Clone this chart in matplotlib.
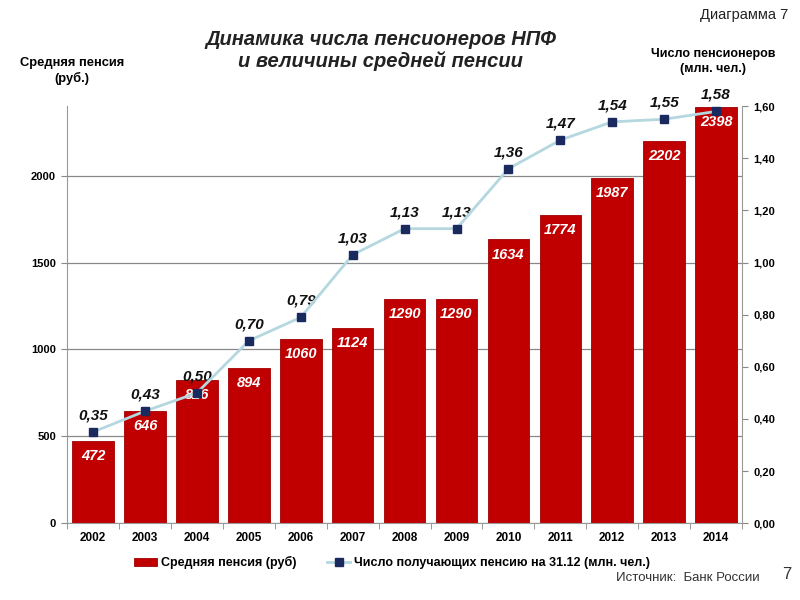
import matplotlib
matplotlib.use('Agg')
import matplotlib.pyplot as plt
import numpy as np

plt.rcParams['font.family'] = ['Liberation Sans', 'DejaVu Sans']

# данные с диаграммы
years = ['2002', '2003', '2004', '2005', '2006', '2007', '2008',
         '2009', '2010', '2011', '2012', '2013', '2014']
avg_pension = [472, 646, 826, 894, 1060, 1124, 1290, 1290, 1634, 1774, 1987, 2202, 2398]
pensioners = [0.35, 0.43, 0.50, 0.70, 0.79, 1.03, 1.13, 1.13, 1.36, 1.47, 1.54, 1.55, 1.58]
left_ticks = [0, 500, 1000, 1500, 2000]
right_ticks = [0.0, 0.2, 0.4, 0.6, 0.8, 1.0, 1.2, 1.4, 1.6]

bar_color = '#C00000'
line_color = '#B4D7E0'
marker_color = '#1B2A5E'

fig = plt.figure(figsize=(8, 6), dpi=100)
ax = fig.add_axes([0.084, 0.128, 0.8435, 0.695])
ax2 = ax.twinx()

x = np.arange(len(years))
bars = ax.bar(x, avg_pension, width=0.8, color=bar_color, edgecolor='#A00000',
              linewidth=0.6, zorder=2, label='Средняя пенсия (руб)')
ax.set_xlim(-0.5, len(years) - 0.5)
ax.set_ylim(0, 2400)
ax.set_yticks(left_ticks)
ax.set_yticklabels([str(t) for t in left_ticks], fontsize=8, fontweight='bold')
ax.set_xticks(x)
ax.set_xticklabels(years, fontsize=8.5, fontweight='bold')
ax.set_xticks(np.arange(len(years) + 1) - 0.5, minor=True)
ax.tick_params(axis='x', which='major', length=0, pad=6)
ax.tick_params(axis='x', which='minor', length=4, color='#888888')
ax.tick_params(axis='y', length=4, color='#888888', pad=4)
ax.grid(axis='y', color='#888888', linewidth=0.9, zorder=0)
ax.set_axisbelow(True)
for s in ['top', 'right']:
    ax.spines[s].set_visible(False)
ax.spines['left'].set_color('#999999')
ax.spines['bottom'].set_color('#999999')

for xi, v in zip(x, avg_pension):
    ax.annotate(str(v), (xi, v), xytext=(0, -11), textcoords='offset points',
                ha='center', va='center', color='white', fontsize=10.5,
                fontweight='bold', fontstyle='italic', zorder=5)

# линия - число пенсионеров
ax2.plot(x, pensioners, color=line_color, linewidth=2, marker='s',
         markersize=6, markerfacecolor=marker_color, markeredgecolor=marker_color,
         zorder=4, label='Число получающих пенсию на 31.12 (млн. чел.)')
ax2.set_ylim(0, 1.6)
ax2.set_yticks(right_ticks)
ax2.set_yticklabels([('%.2f' % t).replace('.', ',') for t in right_ticks],
                    fontsize=8, fontweight='bold')
ax2.tick_params(axis='y', length=4, color='#888888', pad=4)
for s in ['top', 'left', 'bottom']:
    ax2.spines[s].set_visible(False)
ax2.spines['right'].set_color('#999999')

for xi, v in zip(x, pensioners):
    ax2.annotate(('%.2f' % v).replace('.', ','), (xi, v), xytext=(0, 12),
                 textcoords='offset points', ha='center', va='center',
                 fontsize=11, fontweight='bold', fontstyle='italic', color='#111111')

# подписи
fig.text(0.476, 0.916, 'Динамика числа пенсионеров НПФ\nи величины средней пенсии',
         ha='center', va='center', fontsize=14.5, fontweight='bold',
         fontstyle='italic', color='#222222', linespacing=1.1)
fig.text(0.09, 0.882, 'Средняя пенсия\n(руб.)', ha='center', va='center',
         fontsize=9.3, fontweight='bold', linespacing=1.35)
fig.text(0.891, 0.898, 'Число пенсионеров\n(млн. чел.)', ha='center', va='center',
         fontsize=9, fontweight='bold', linespacing=1.35)
fig.text(0.93, 0.975, 'Диаграмма 7', ha='center', va='center', fontsize=10.5, color='#222222')
fig.text(0.86, 0.037, 'Источник:  Банк России', ha='center', va='center',
         fontsize=9.5, color='#333333')
fig.text(0.984, 0.042, '7', ha='center', va='center', fontsize=12, color='#333333')

h1, l1 = ax.get_legend_handles_labels()
h2, l2 = ax2.get_legend_handles_labels()
fig.legend(h1 + h2, l1 + l2, loc='center', bbox_to_anchor=(0.49, 0.062), ncol=2,
           frameon=False, prop={'size': 9, 'weight': 'bold'},
           handlelength=1.8, handletextpad=0.3, columnspacing=2.5)

fig.savefig('out.png', dpi=100)
